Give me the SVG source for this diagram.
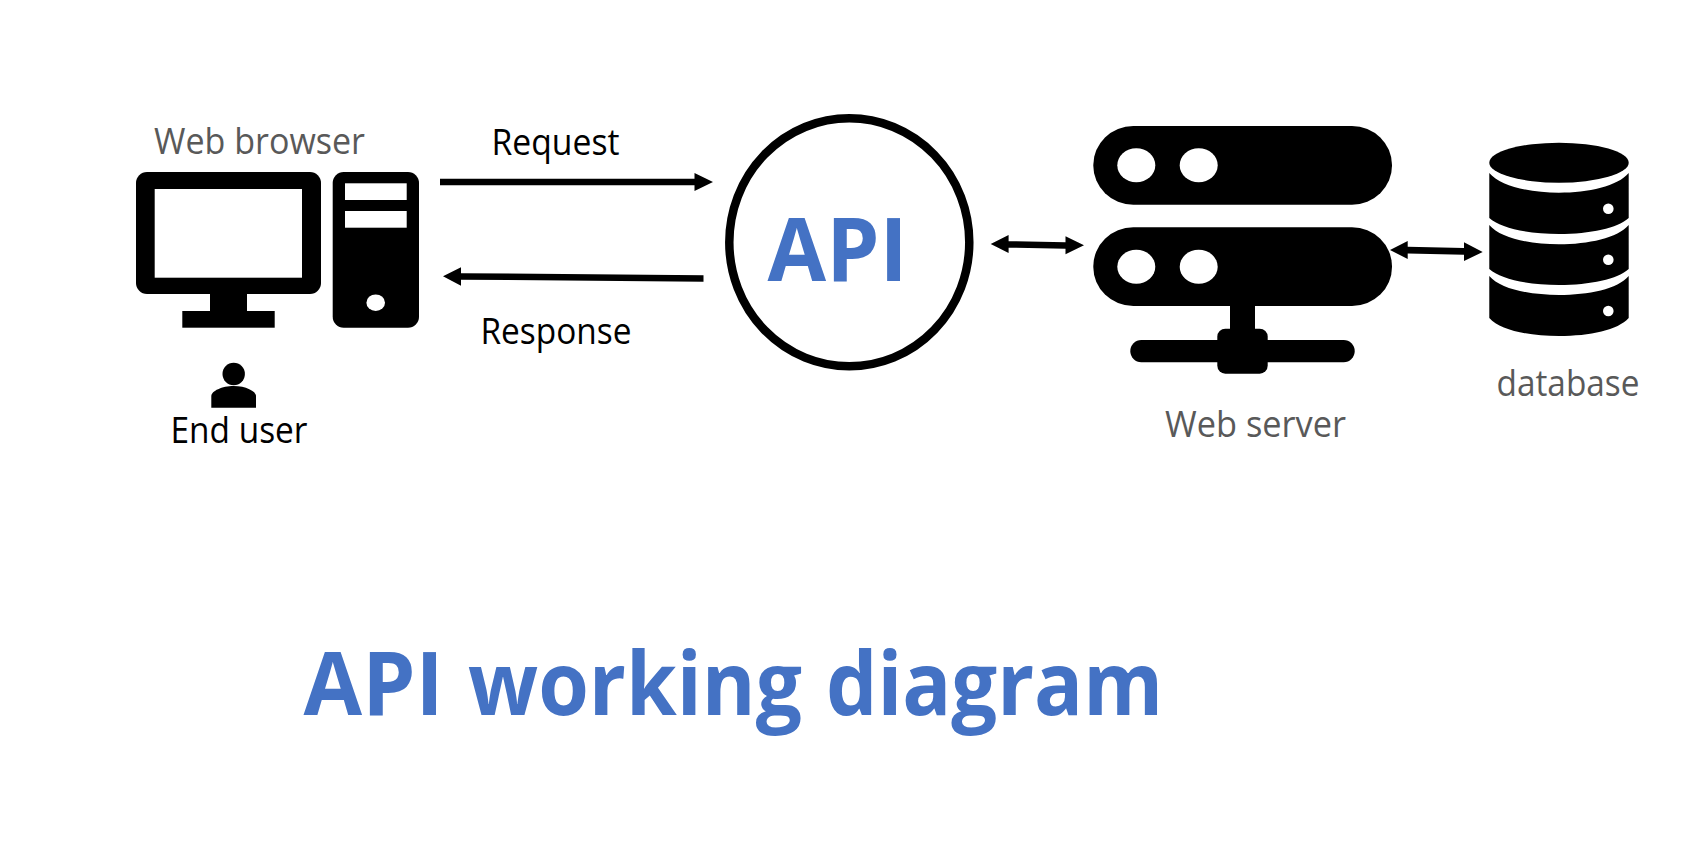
<svg xmlns="http://www.w3.org/2000/svg" width="1700" height="856" viewBox="0 0 1700 856">
<style>
text{font-family:"Open Sans","Noto Sans","Liberation Sans",sans-serif}
.g{fill:#595959;font-size:36px}
.k{fill:#000;font-size:36px}
.b{fill:#4472C4;font-weight:700}
.w{fill:#fff}
.sh{fill:#000}
</style>
<rect width="1700" height="856" fill="#fff"/>
<g id="browser">
<rect class="sh" x="136" y="172" width="185" height="122" rx="11"/>
<rect class="w" x="154.700" y="189" width="147.300" height="88.700"/>
<rect class="sh" x="210" y="290" width="37" height="25"/>
<rect class="sh" x="182.300" y="311" width="92.400" height="16.700"/>
<rect class="sh" x="332.700" y="172" width="86.300" height="155.700" rx="11"/>
<rect class="w" x="345" y="183.300" width="61.700" height="16.700"/>
<rect class="w" x="345" y="211" width="61.700" height="16.700"/>
<ellipse class="w" cx="375.700" cy="302.700" rx="9.300" ry="8.300"/>
<text class="g" x="154" y="153.500" textLength="211" lengthAdjust="spacingAndGlyphs">Web browser</text>
</g>
<g id="user">
<circle class="sh" cx="233.700" cy="374" r="11.200"/>
<path class="sh" d="M211.300 407.700V396C211.300 391 222 386 233.700 386S256 391 256 396V407.700Z"/>
<text class="k" x="170.500" y="443" textLength="137" lengthAdjust="spacingAndGlyphs">End user</text>
</g>
<g id="connectors">
<path class="sh" d="M440 178.700H694.500V173L713 182L694.500 191V185.300H440Z"/>
<path class="sh" d="M703.500 281.700L461 279.700V285.700L443 276.300L461 267.300V273.200L703.500 275.200Z"/>
<path class="sh" d="M990.700 244L1008.600 235V241.200L1065.500 242.200V236.300L1084 245.300L1065.500 254.300V248.700L1008.600 247.700V253Z"/>
<path class="sh" d="M1390 250L1407.700 241V246.700L1464 248V242.300L1482.700 252L1464 261V254.700L1407.700 253.400V259Z"/>
</g>
<g id="api">
<ellipse cx="849.300" cy="242.300" rx="120" ry="124" fill="#fff" stroke="#000" stroke-width="8.500"/>
<text class="b" x="767.600" y="281" font-size="88" textLength="140" lengthAdjust="spacingAndGlyphs">API</text>
</g>
<g id="server">
<rect class="sh" x="1093.300" y="126" width="298.700" height="78.700" rx="40" ry="39"/>
<ellipse class="w" cx="1136.300" cy="165.300" rx="19" ry="17"/>
<ellipse class="w" cx="1198.700" cy="165.300" rx="19" ry="17"/>
<rect class="sh" x="1093.300" y="227.300" width="298.700" height="78.700" rx="40" ry="39"/>
<ellipse class="w" cx="1136.300" cy="266.700" rx="19" ry="17"/>
<ellipse class="w" cx="1198.700" cy="266.700" rx="19" ry="17"/>
<rect class="sh" x="1230" y="300" width="25" height="35"/>
<rect class="sh" x="1130.300" y="340" width="224.400" height="22.300" rx="11"/>
<rect class="sh" x="1217.300" y="328.700" width="50.400" height="45" rx="8"/>
<text class="g" x="1165" y="436.500" textLength="181" lengthAdjust="spacingAndGlyphs">Web server</text>
</g>
<g id="database">
<ellipse class="sh" cx="1559" cy="162.700" rx="69.700" ry="20"/>
<path class="sh" d="M1489.300 173C1500 186 1530 192.700 1559 192.700S1618 186 1628.700 173V218C1618 228 1590 234 1559 234S1500 228 1489.300 218Z"/>
<path class="sh" d="M1489.300 225C1500 238 1530 244.300 1559 244.300S1618 238 1628.700 225V269C1618 279 1590 285 1559 285S1500 279 1489.300 269Z"/>
<path class="sh" d="M1489.300 276C1500 289 1530 295 1559 295S1618 289 1628.700 276V318C1618 330 1590 336 1559 336S1500 330 1489.300 318Z"/>
<circle class="w" cx="1608.300" cy="208.700" r="5.300"/>
<circle class="w" cx="1608.300" cy="259.700" r="5.300"/>
<circle class="w" cx="1608.300" cy="311" r="5.300"/>
<text class="g" x="1496.500" y="395.500" textLength="143" lengthAdjust="spacingAndGlyphs">database</text>
</g>
<text class="k" x="491.500" y="155" textLength="128" lengthAdjust="spacingAndGlyphs">Request</text>
<text class="k" x="480.500" y="344" textLength="151" lengthAdjust="spacingAndGlyphs">Response</text>
<text class="b" y="715" font-size="88"><tspan x="303.600" textLength="140" lengthAdjust="spacingAndGlyphs">API</tspan><tspan x="468" textLength="334" lengthAdjust="spacingAndGlyphs">working</tspan><tspan x="826" textLength="337" lengthAdjust="spacingAndGlyphs">diagram</tspan></text>
</svg>
